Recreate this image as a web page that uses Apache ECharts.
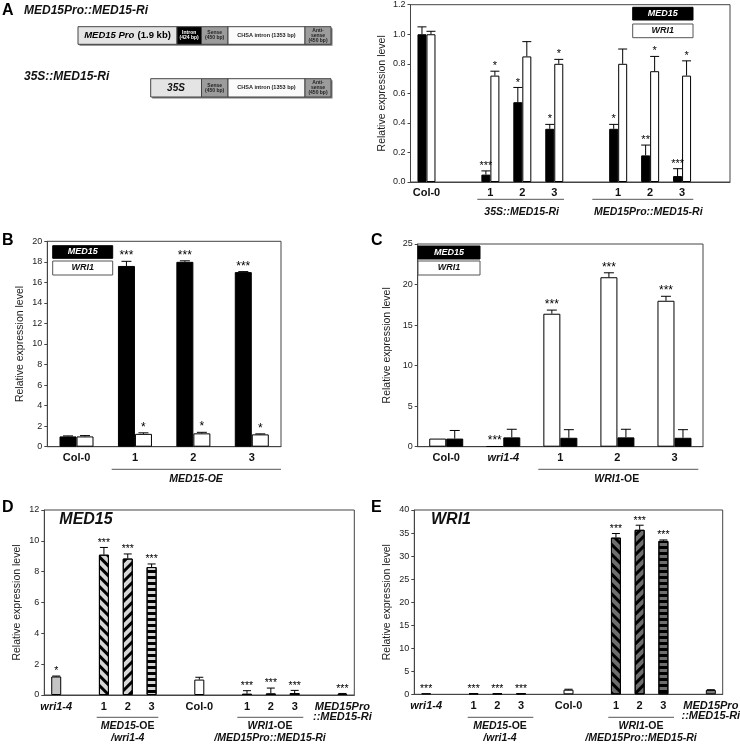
<!DOCTYPE html>
<html><head><meta charset="utf-8">
<script src="https://cdn.jsdelivr.net/npm/echarts@6/dist/echarts.min.js"></script>
<style>html,body{margin:0;padding:0;background:#fff}#c{width:740px;height:744px}</style>
</head><body><div id="c"></div>
<script>
// ---------- DATA ----------
// Panel A
const aCats = ['Col-0', '', '1', '2', '3', '', '1', '2', '3', ''];
const aMed15 = [1.0, null, 0.05, 0.54, 0.36, null, 0.36, 0.18, 0.04, null];
const aMed15Err = [0.05, null, 0.025, 0.10, 0.03, null, 0.03, 0.07, 0.05, null];
const aMed15Sig = ['', '', '***', '*', '*', '', '*', '**', '***', ''];
const aWri1 = [1.0, null, 0.72, 0.85, 0.80, null, 0.80, 0.75, 0.72, null];
const aWri1Err = [0.02, null, 0.03, 0.10, 0.03, null, 0.10, 0.10, 0.10, null];
const aWri1Sig = ['', '', '*', '', '*', '', '', '*', '*', ''];
const aYTicks = [0, 1.2, 0.2];
// Panel B
const bCats = ['Col-0', '1', '2', '3'];
const bMed15 = [1.0, 17.6, 18.0, 17.0];
const bMed15Err = [0.05, 0.45, 0.1, 0.05];
const bMed15Sig = ['', '***', '***', '***'];
const bWri1 = [1.0, 1.25, 1.3, 1.2];
const bWri1Err = [0.08, 0.1, 0.1, 0.05];
const bWri1Sig = ['', '*', '*', '*'];
const bYTicks = [0, 20, 2];
// Panel C
const cCats = ['Col-0', 'wri1-4', '1', '2', '3'];
const cWri1 = [1.0, 0.05, 16.4, 20.9, 18.0];
const cWri1Err = [0, 0, 0.45, 0.55, 0.55];
const cWri1Sig = ['', '***', '***', '***', '***'];
const cMed15 = [1.0, 1.15, 1.1, 1.15, 1.1];
const cMed15Err = [1.0, 1.0, 1.0, 1.0, 1.0];
const cMed15Sig = ['', '', '', '', ''];
const cYTicks = [0, 25, 5];
// Panel D (MED15)
const deCats = ['wri1-4', '', '1', '2', '3', '', 'Col-0', '', '1', '2', '3', '', 'MED15Pro\n::MED15-Ri'];
const dVals = [1.2, null, 9.1, 8.85, 8.3, null, 1.0, null, 0.08, 0.1, 0.12, null, 0.08];
const dErr = [0.03, null, 0.47, 0.3, 0.2, null, 0.15, null, 0.2, 0.35, 0.18, null, 0.02];
const dSig = ['*', '', '***', '***', '***', '', '', '', '***', '***', '***', '', '***'];
const dYTicks = [0, 12, 2];
// Panel E (WRI1)
const eVals = [0.05, null, 0.05, 0.05, 0.05, null, 1.0, null, 34.0, 35.7, 33.3, null, 0.95];
const eErr = [0, null, 0, 0, 0, null, 0.1, null, 0.9, 1.0, 0.2, null, 0.05];
const eSig = ['***', '', '***', '***', '***', '', '', '', '***', '***', '***', '', ''];
const eYTicks = [0, 40, 5];

// ---------- STYLE ----------
const FF = '"Liberation Sans", Arial, Helvetica, sans-serif';
const AX = '#444';
const italicCats = new Set(['wri1-4', 'MED15Pro\n::MED15-Ri']);
const richLab = {
  b: {fontWeight: 'bold', fontSize: 11, fontFamily: FF, color: '#111', lineHeight: 10},
  i: {fontWeight: 'bold', fontStyle: 'italic', fontSize: 11, fontFamily: FF, color: '#111', lineHeight: 10}
};
function catFmt(v) {
  if (!v) return '';
  const t = italicCats.has(v) ? 'i' : 'b';
  return v.split('\n').map(l => '{' + t + '|' + l + '}').join('\n');
}
function grid(left, top, width, height) {
  return {left, top, width, height, show: true, borderColor: AX, borderWidth: 1, containLabel: false, outerBoundsMode: 'none'};
}
function xAx(gi, cats, margin) {
  return {type: 'category', gridIndex: gi, data: cats,
    axisLine: {show: true, onZero: false, lineStyle: {color: AX, width: 1}},
    axisTick: {show: false}, splitLine: {show: false},
    axisLabel: {interval: 0, margin, formatter: catFmt, rich: richLab}};
}
function yAx(gi, t, nameGap, dec) {
  return {type: 'value', gridIndex: gi, min: t[0], max: t[1], interval: t[2],
    name: 'Relative expression level', nameLocation: 'middle', nameGap, nameRotate: 90,
    nameTextStyle: {fontSize: 10.5, color: '#222', fontFamily: FF},
    axisLine: {show: true, lineStyle: {color: AX, width: 1}},
    axisTick: {show: true, inside: false, length: 3, lineStyle: {color: AX}},
    splitLine: {show: false},
    axisLabel: {fontSize: 9, color: '#222', fontFamily: FF, margin: 5,
      formatter: v => dec ? v.toFixed(dec) : String(v)}};
}
function bar(gi, vals, w, color, extra) {
  return Object.assign({type: 'bar', xAxisIndex: gi, yAxisIndex: gi, barWidth: w, barGap: '0%',
    data: vals.map(v => v == null ? '-' : v), silent: true,
    itemStyle: {color, borderColor: '#000', borderWidth: 1}}, extra || {});
}
function errSeries(gi, cats, vals, errs, sigs, offset, cap, starSize) {
  return {type: 'custom', xAxisIndex: gi, yAxisIndex: gi, z: 10, silent: true,
    data: cats.map((c, i) => [i, vals[i] == null ? 0 : vals[i]]),
    renderItem: function (params, api) {
      const i = params.dataIndex;
      const v = vals[i];
      if (v == null) return null;
      const e = errs[i] || 0;
      const p0 = api.coord([i, v]);
      const p1 = api.coord([i, v + e]);
      const x = p0[0] + offset;
      const ch = [];
      if (e > 0) {
        ch.push({type: 'line', shape: {x1: x, y1: p0[1], x2: x, y2: p1[1]}, style: {stroke: '#000', lineWidth: 1}});
        ch.push({type: 'line', shape: {x1: x - cap, y1: p1[1], x2: x + cap, y2: p1[1]}, style: {stroke: '#000', lineWidth: 1}});
      }
      if (sigs[i]) {
        ch.push({type: 'text', style: {text: sigs[i], x: x, y: p1[1] - starSize * 0.95, align: 'center', verticalAlign: 'top',
          font: starSize + 'px ' + FF, fill: '#000'}});
      }
      return {type: 'group', children: ch};
    }};
}
// per-category styles for panels D/E
function stripe(rot, dy) {
  return {symbol: 'rect', symbolSize: 1, dashArrayX: [1, 0], dashArrayY: dy, rotation: rot, color: '#000'};
}
const stUp = stripe(Math.PI / 4, [2.6, 3.6]);
const stDown = stripe(-Math.PI / 4, [2.6, 3.6]);
const stH = stripe(0, [2.4, 2.4]);
const deStyles = [
  {color: '#c4c4c4'}, null,
  {color: '#d6d6d6', decal: stUp}, {color: '#d6d6d6', decal: stDown}, {color: '#d6d6d6', decal: stH}, null,
  {color: '#ffffff'}, null,
  {color: '#6e6e6e', decal: stUp}, {color: '#6e6e6e', decal: stDown}, {color: '#6e6e6e', decal: stH}, null,
  {color: '#7c7c7c'}
];
function deBar(gi, vals) {
  return {type: 'bar', xAxisIndex: gi, yAxisIndex: gi, barWidth: 10, silent: true, barMinHeight: 1,
    data: vals.map((v, i) => v == null ? '-' : {value: v,
      itemStyle: Object.assign({borderColor: '#000', borderWidth: 1}, deStyles[i])})};
}

// ---------- GRAPHICS (diagram, legends, group labels) ----------
const G = [];
function txt(x, y, text, font, fill, align, extra) {
  G.push(Object.assign({type: 'text', z: 100, style: {x, y, text, font, fill: fill || '#111', align: align || 'center', verticalAlign: 'middle'}}, extra || {}));
}
function rtxt(x, y, text, size) {
  G.push({type: 'text', z: 100, style: {x, y, text, align: 'center', verticalAlign: 'middle',
    rich: {i: {fontWeight: 'bold', fontStyle: 'italic', fontSize: size, fontFamily: FF, fill: '#111', color: '#111'},
           b: {fontWeight: 'bold', fontSize: size, fontFamily: FF, fill: '#111', color: '#111'}}}});
}
function rect(x, y, w, h, fill, stroke) {
  G.push({type: 'rect', z: 100, shape: {x, y, width: w, height: h}, style: {fill, stroke: stroke || null, lineWidth: 1}});
}
function hline(x1, x2, y) {
  G.push({type: 'line', z: 100, shape: {x1, y1: y, x2, y2: y}, style: {stroke: '#555', lineWidth: 1}});
}
const BI = s => 'italic bold ' + s + 'px ' + FF;
const B = s => 'bold ' + s + 'px ' + FF;
// panel letters
txt(2, 11, 'A', B(16), '#000', 'left');
txt(2, 241, 'B', B(16), '#000', 'left');
txt(371, 241, 'C', B(16), '#000', 'left');
txt(2, 507.5, 'D', B(16), '#000', 'left');
txt(371, 507.5, 'E', B(16), '#000', 'left');
// constructs
txt(24, 11, 'MED15Pro::MED15-Ri', BI(12), '#111', 'left');
txt(24, 77, '35S::MED15-Ri', BI(12), '#111', 'left');
function construct(x0, y, h, first) {
  rect(x0 + 1.5, y + 1.5, 331 - x0, h, '#777');
  first.forEach(s => { rect(s[0], y, s[1], h, s[2], '#444'); });
  rect(201.5, y, 26.5, h, '#9c9c9c', '#444');
  rect(228, y, 77, h, '#fafafa', '#444');
  rect(305, y, 26, h, '#9c9c9c', '#444');
  txt(214.7, y + h / 2, 'Sense\n(450 bp)', 'bold 5px ' + FF, '#222');
  txt(266.5, y + h / 2, 'CHSA intron (1353 bp)', 'bold 5.5px ' + FF, '#222');
  txt(318, y + h / 2, 'Anti-\nsense\n(450 bp)', 'bold 5px ' + FF, '#222');
}
construct(78, 26.7, 17.6, [[78, 99, '#e4e4e4'], [177, 24.5, '#000']]);
G.push({type: 'text', z: 100, style: {x: 127.5, y: 35.5, text: '{i|MED15 Pro} {b|(1.9 kb)}', align: 'center', verticalAlign: 'middle',
  rich: {i: {fontWeight: 'bold', fontStyle: 'italic', fontSize: 9.5, fontFamily: FF, color: '#111'}, b: {fontWeight: 'bold', fontSize: 9.5, fontFamily: FF, color: '#111'}}}});
txt(189.2, 35.5, 'Intron\n(424 bp)', 'bold 5px ' + FF, '#fff');
construct(150.7, 78.7, 18.3, [[150.7, 50.8, '#e4e4e4']]);
txt(176, 87.8, '35S', BI(10), '#111');
// legends
function legend(x, y1, h1, y2, h2, w) {
  rect(x, y1, w, h1, '#000', '#000');
  txt(x + w / 2, y1 + h1 / 2, 'MED15', BI(9), '#fff');
  rect(x, y2, w, h2, '#fff', '#555');
  txt(x + w / 2, y2 + h2 / 2, 'WRI1', BI(9), '#111');
}
legend(632.7, 7.3, 12.7, 24, 13.7, 60.3);
legend(52.7, 245.7, 12.6, 261, 14, 60);
legend(418, 246, 13, 261, 14, 62);
// group underlines & labels
hline(477.3, 564, 199.3); hline(592.3, 693.3, 199.3);
txt(521.7, 212, '35S::MED15-Ri', BI(10.5));
txt(648.3, 212, 'MED15Pro::MED15-Ri', BI(10.5));
hline(111.7, 281, 469.3);
txt(196, 479.5, 'MED15-OE', BI(10.5));
hline(538.3, 698.3, 469.3);
rtxt(616.7, 479.5, '{i|WRI1}{b|-OE}', 10.5);
hline(96.7, 158.3, 717.3); hline(237.3, 303.3, 717.3);
rtxt(127.7, 726.5, '{i|MED15}{b|-OE}', 10.5);
txt(127.7, 738.5, '/wri1-4', BI(10.5));
rtxt(270, 726.5, '{i|WRI1}{b|-OE}', 10.5);
txt(270, 738.5, '/MED15Pro::MED15-Ri', BI(10.5));
hline(467.7, 533.3, 717.3); hline(608.3, 674, 717.3);
rtxt(500, 726.5, '{i|MED15}{b|-OE}', 10.5);
txt(500, 738.5, '/wri1-4', BI(10.5));
rtxt(641, 726.5, '{i|WRI1}{b|-OE}', 10.5);
txt(641, 738.5, '/MED15Pro::MED15-Ri', BI(10.5));
// panel titles
txt(59.3, 520, 'MED15', BI(16), '#111', 'left');
txt(431, 520, 'WRI1', BI(16), '#111', 'left');

// ---------- CHART ----------
const chart = echarts.init(document.getElementById('c'), null, {renderer: 'canvas'});
chart.setOption({
  animation: false,
  backgroundColor: '#fff',
  textStyle: {fontFamily: FF},
  grid: [
    grid(410.5, 4.7, 319.5, 177.3),
    grid(47.3, 241.3, 233.7, 205.4),
    grid(417.7, 244, 285.3, 202.7),
    grid(44.3, 510, 310, 185),
    grid(414.3, 510, 308.4, 184.3)
  ],
  xAxis: [xAx(0, aCats, 6), xAx(1, bCats, 6), xAx(2, cCats, 6), xAx(3, deCats, 7), xAx(4, deCats, 7)],
  yAxis: [yAx(0, aYTicks, 22.5, 1), yAx(1, bYTicks, 21.5, 0), yAx(2, cYTicks, 25.5, 0), yAx(3, dYTicks, 22, 0), yAx(4, eYTicks, 21.5, 0)],
  series: [
    bar(0, aMed15, 9, '#000'), bar(0, aWri1, 9, '#fff'),
    errSeries(0, aCats, aMed15, aMed15Err, aMed15Sig, -4.5, 4.5, 11),
    errSeries(0, aCats, aWri1, aWri1Err, aWri1Sig, 4.5, 4.5, 11),
    bar(1, bMed15, 17, '#000'), bar(1, bWri1, 17, '#fff'),
    errSeries(1, bCats, bMed15, bMed15Err, bMed15Sig, -8.5, 5, 12),
    errSeries(1, bCats, bWri1, bWri1Err, bWri1Sig, 8.5, 5, 12),
    bar(2, cWri1, 17, '#fff'), bar(2, cMed15, 17, '#000'),
    errSeries(2, cCats, cWri1, cWri1Err, cWri1Sig, -8.5, 5, 12),
    errSeries(2, cCats, cMed15, cMed15Err, cMed15Sig, 8.5, 5, 12),
    deBar(3, dVals), errSeries(3, deCats, dVals, dErr, dSig, 0, 4, 10.5),
    deBar(4, eVals), errSeries(4, deCats, eVals, eErr, eSig, 0, 4, 10.5)
  ],
  graphic: G
});
</script></body></html>
